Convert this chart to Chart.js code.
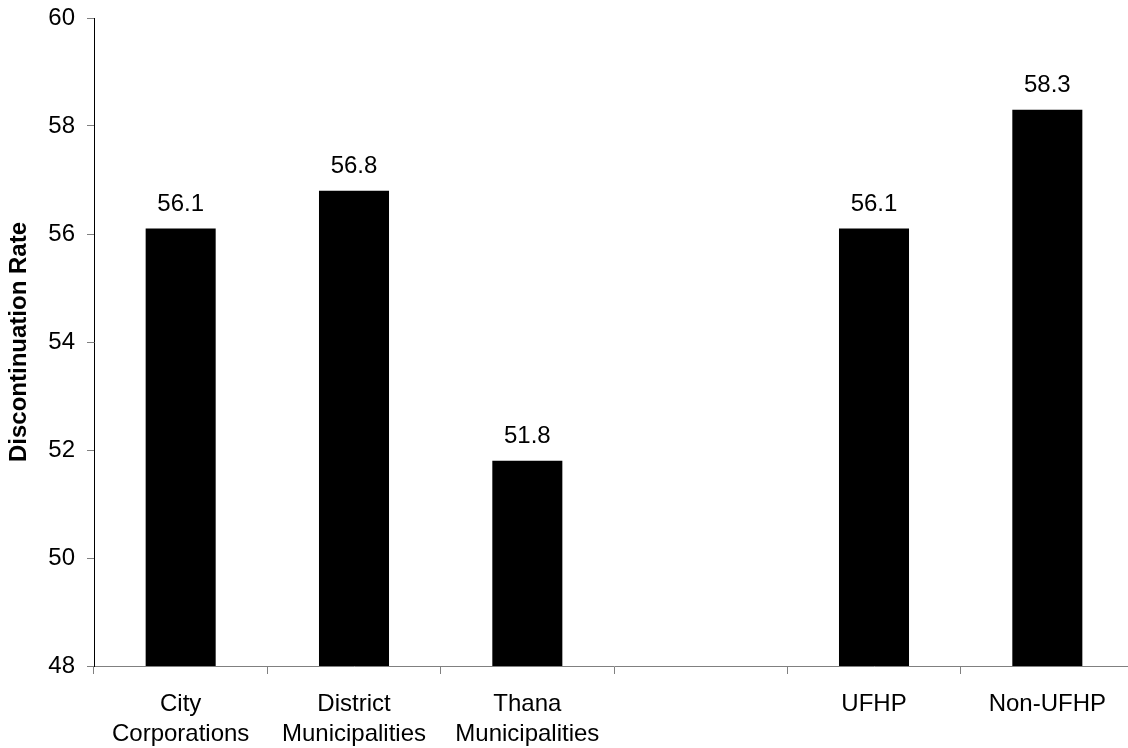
<!DOCTYPE html>
<html>
<head>
<meta charset="utf-8">
<script src="https://cdn.jsdelivr.net/npm/chart.js@4/dist/chart.umd.min.js"></script>
<style>
  html, body { margin: 0; padding: 0; background: #fff; overflow: hidden; }
  #wrap { position: relative; width: 1140px; height: 748px; }
</style>
</head>
<body>
<div id="wrap"><canvas id="chart"></canvas></div>
<script>
// Discontinuation rate by area type and programme coverage
const categories = [
  ['City', 'Corporations'],
  ['District', 'Municipalities'],
  ['Thana', 'Municipalities'],
  '',
  'UFHP',
  'Non-UFHP'
];
const rates = [56.1, 56.8, 51.8, null, 56.1, 58.3];
const yTicks = [48, 50, 52, 54, 56, 58, 60];

const FONT = '"Liberation Sans", Arial, sans-serif';

// Writes each bar's value just above it
const valueLabels = {
  id: 'valueLabels',
  afterDatasetsDraw(chart) {
    const ctx = chart.ctx;
    const meta = chart.getDatasetMeta(0);
    ctx.save();
    ctx.font = '24px ' + FONT;
    ctx.fillStyle = '#000';
    ctx.textAlign = 'center';
    ctx.textBaseline = 'alphabetic';
    meta.data.forEach((bar, i) => {
      const v = rates[i];
      if (v === null || v === undefined) return;
      ctx.fillText(v.toFixed(1), bar.x, bar.y - 18);
    });
    ctx.restore();
  }
};

new Chart(document.getElementById('chart'), {
  type: 'bar',
  data: {
    labels: categories,
    datasets: [{
      data: rates,
      backgroundColor: '#000',
      borderWidth: 0,
      barPercentage: 0.404,
      categoryPercentage: 1.0
    }]
  },
  options: {
    responsive: true,
    maintainAspectRatio: false,
    animation: false,
    layout: { padding: { top: 18, right: 6, left: 0, bottom: 0 } },
    plugins: {
      legend: { display: false },
      tooltip: { enabled: false }
    },
    scales: {
      x: {
        offset: true,
        grid: {
          offset: true,
          drawOnChartArea: false,
          drawTicks: true,
          tickLength: 8,
          color: '#808080'
        },
        border: { color: '#808080', width: 1 },
        ticks: {
          color: '#000',
          font: { family: FONT, size: 24, lineHeight: 1.25 },
          padding: 15,
          maxRotation: 0,
          autoSkip: false
        },
        afterFit(scale) { scale.height = 82; }
      },
      y: {
        min: 48,
        max: 60,
        afterBuildTicks(scale) { scale.ticks = yTicks.map(v => ({ value: v })); },
        grid: {
          drawOnChartArea: false,
          drawTicks: true,
          tickLength: 7,
          color: '#808080'
        },
        border: { color: '#000', width: 1 },
        ticks: {
          color: '#000',
          font: { family: FONT, size: 24 },
          padding: 12
        },
        title: {
          display: true,
          text: 'Discontinuation Rate',
          color: '#000',
          font: { family: FONT, size: 24, weight: 'bold', lineHeight: 1.2 },
          padding: { top: 5, bottom: 0 }
        },
        afterFit(scale) {
          scale.width = 94;
          scale.paddingTop = 0;
          scale.paddingBottom = 0;
        }
      }
    }
  },
  plugins: [valueLabels]
});
</script>
</body>
</html>
